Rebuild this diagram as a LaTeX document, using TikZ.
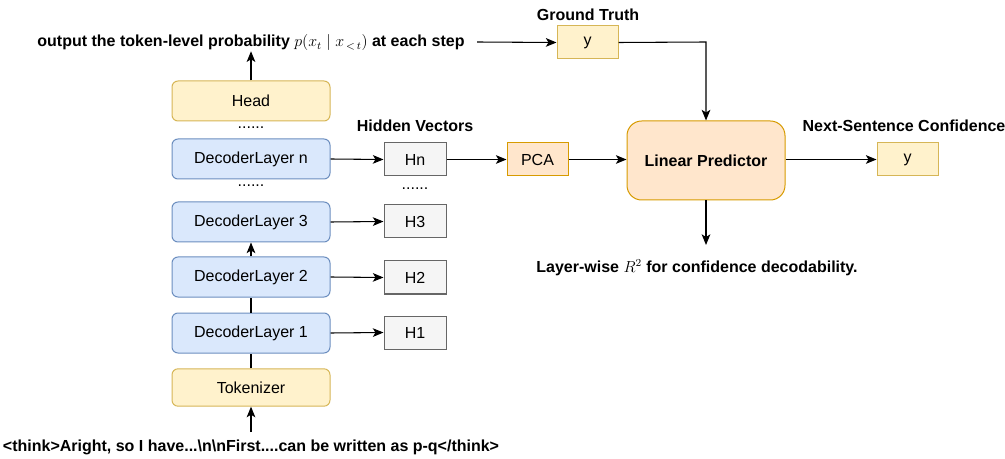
\documentclass[tikz,border=0pt]{standalone}
\usepackage{fontspec}
\setmainfont{Liberation Sans}
\usetikzlibrary{arrows.meta}
\definecolor{ylwfill}{HTML}{FFF2CC}
\definecolor{ylwline}{HTML}{D6B656}
\definecolor{bluefill}{HTML}{DAE8FC}
\definecolor{blueline}{HTML}{6C8EBF}
\definecolor{grayfill}{HTML}{F5F5F5}
\definecolor{grayline}{HTML}{666666}
\definecolor{orgfill}{HTML}{FFE6CC}
\definecolor{orgline}{HTML}{D79B00}
\tikzset{
  base/.style={draw, line width=0.75pt, inner sep=0pt, font=\fontsize{12}{14}\selectfont},
  yelbox/.style={base, fill=ylwfill, draw=ylwline, rounded corners=4.5pt, minimum width=118.5pt, minimum height=30pt},
  decbox/.style={base, fill=bluefill, draw=blueline, rounded corners=4.5pt, minimum width=118.5pt, minimum height=30pt},
  hbox/.style={base, fill=grayfill, draw=grayline, minimum width=46.5pt, minimum height=24.75pt},
  valbox/.style={base, fill=ylwfill, draw=ylwline, minimum width=45.75pt, minimum height=24.75pt},
  pcabox/.style={base, fill=orgfill, draw=orgline, minimum width=45.75pt, minimum height=24.75pt},
  predbox/.style={base, fill=orgfill, draw=orgline, rounded corners=11pt, minimum width=118.5pt, minimum height=59.25pt, font=\fontsize{12}{14}\selectfont\bfseries},
  lbl/.style={inner sep=0pt, font=\fontsize{12}{14}\selectfont\bfseries},
  dots/.style={inner sep=0pt, font=\fontsize{12}{14}\selectfont},
  arr/.style={-{Stealth[length=8pt,width=6.5pt,inset=2pt]}, line width=0.8pt},
  ln/.style={line width=0.8pt},
}
\begin{document}
\begin{tikzpicture}[x=0.75pt, y=-0.75pt]
\useasboundingbox (0,0) rectangle (1005,459);

% model stack
\node[yelbox] (head) at (251,101) {Head};
\node[decbox] (dln) at (251,159) {DecoderLayer n};
\node[decbox] (dl3) at (251,222) {DecoderLayer 3};
\node[decbox] (dl2) at (251,277) {DecoderLayer 2};
\node[decbox] (dl1) at (251,333) {DecoderLayer 1};
\node[yelbox, minimum height=28pt] (tok) at (251,387.5) {Tokenizer};
\node[dots] (d1) at (251,128) {......};
\node[dots] (d2) at (251,186) {......};

% hidden vectors
\node[lbl] (hvt) at (415,126) {Hidden Vectors};
\node[hbox] (hn) at (415,159.5) {Hn};
\node[hbox] (h3) at (415,221.5) {H3};
\node[hbox] (h2) at (415,277.5) {H2};
\node[hbox] (h1) at (415,332.5) {H1};
\node[dots] (d3) at (415,189) {......};

% probe
\node[lbl] (gtt) at (588,15) {Ground Truth};
\node[valbox] (ygt) at (587.5,42.5) {y};
\node[pcabox] (pca) at (537.5,159.5) {PCA};
\node[predbox] (lp) at (706,160.5) {Linear Predictor};
\node[lbl] (nsc) at (904,126) {Next-Sentence Confidence};
\node[valbox] (yout) at (907.5,159.5) {y};
\node[lbl] (r2) at (697,268) {Layer-wise $R^2$ for confidence decodability.};

% input and output texts
\node[lbl] (outt) at (251,43) {output the token-level probability $p(x_t \mid x_{\,<\,t})$ at each step};
\node[lbl] (inp) at (251,447) {<think>Aright, so I have...\textbackslash n\textbackslash nFirst....can be written as p-q</think>};

\coordinate (outend) at (477,42);
\coordinate (inpstart) at (251,432);
\coordinate (r2end) at (706,245);
\coordinate (gtcorner) at (706,42);

% connectors
\draw[arr] (head.north) -- (outt.south -| head.north);
\draw[arr] (outend) -- (ygt.west);
\draw[arr] (ygt.east) -- (gtcorner) -- (lp.north);
\draw[arr] (inpstart) -- (tok.south);
\draw[ln] (tok.north) -- (dl1.south);
\draw[ln] (dl1.north) -- (dl2.south);
\draw[arr] (dl2.north) -- (dl3.south);
\draw[arr] (dln.east) -- (hn.west);
\draw[arr] (dl3.east) -- (h3.west);
\draw[arr] (dl2.east) -- (h2.west);
\draw[arr] (dl1.east) -- (h1.west);
\draw[arr] (hn.east) -- (pca.west);
\draw[arr] (pca.east) -- (pca.east -| lp.west);
\draw[arr] (lp.east |- yout.west) -- (yout.west);
\draw[arr] (lp.south) -- (r2end);
\end{tikzpicture}
\end{document}
